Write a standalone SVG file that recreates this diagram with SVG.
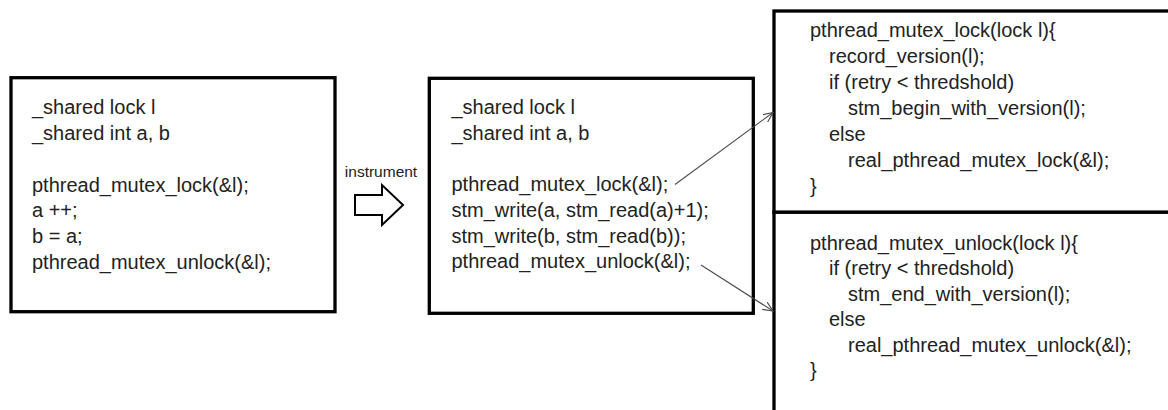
<svg xmlns="http://www.w3.org/2000/svg" width="1168" height="410" viewBox="0 0 1168 410">
<style>
.box{fill:#fff;stroke:#000;stroke-width:3.3}
.code{font-family:"Liberation Sans",Arial,sans-serif;font-size:20px;fill:#222}
.lbl{font-family:"Liberation Sans",Arial,sans-serif;font-size:15.5px;fill:#222}
.conn{fill:none;stroke:#4a4a4a;stroke-width:1.1}
</style>
<defs>
<marker id="ah" markerWidth="12" markerHeight="10" refX="10" refY="4.5" orient="auto" markerUnits="userSpaceOnUse">
<path d="M0,0 L10,4.5 L0,9" fill="none" stroke="#4a4a4a" stroke-width="1.1"/>
</marker>
</defs>
<rect width="1168" height="410" fill="#fff"/>
<g id="node-original">
<rect class="box" x="11" y="77.7" width="324" height="234"/>
<text class="code" x="32" y="114">_shared lock l</text>
<text class="code" x="32" y="140">_shared int a, b</text>
<text class="code" x="32" y="191.5">pthread_mutex_lock(&amp;l);</text>
<text class="code" x="32" y="217">a ++;</text>
<text class="code" x="32" y="242.5">b = a;</text>
<text class="code" x="32" y="268.5">pthread_mutex_unlock(&amp;l);</text>
</g>
<g id="node-instrument">
<text class="lbl" x="381" y="177" text-anchor="middle">instrument</text>
<polygon points="355,195 382,195 382,185 403,205 382,225 382,215 355,215" fill="#fff" stroke="#000" stroke-width="2"/>
</g>
<g id="node-instrumented">
<rect class="box" x="429.3" y="78.3" width="324" height="235"/>
<text class="code" x="451.5" y="113.5">_shared lock l</text>
<text class="code" x="451.5" y="139.5">_shared int a, b</text>
<text class="code" x="451.5" y="191">pthread_mutex_lock(&amp;l);</text>
<text class="code" x="451.5" y="216.7">stm_write(a, stm_read(a)+1);</text>
<text class="code" x="451.5" y="242.5">stm_write(b, stm_read(b));</text>
<text class="code" x="451.5" y="268.3">pthread_mutex_unlock(&amp;l);</text>
</g>
<g id="node-lock">
<rect class="box" x="774" y="11" width="420" height="201.3"/>
<text class="code" x="810" y="37">pthread_mutex_lock(lock l){</text>
<text class="code" x="829" y="63">record_version(l);</text>
<text class="code" x="829" y="89">if (retry &lt; thredshold)</text>
<text class="code" x="848" y="115">stm_begin_with_version(l);</text>
<text class="code" x="829" y="141">else</text>
<text class="code" x="848" y="167">real_pthread_mutex_lock(&amp;l);</text>
<text class="code" x="810" y="193">}</text>
</g>
<g id="node-unlock">
<rect class="box" x="774" y="212.3" width="420" height="220"/>
<text class="code" x="810" y="250">pthread_mutex_unlock(lock l){</text>
<text class="code" x="829" y="275">if (retry &lt; thredshold)</text>
<text class="code" x="848" y="300.5">stm_end_with_version(l);</text>
<text class="code" x="829" y="326">else</text>
<text class="code" x="848" y="351.5">real_pthread_mutex_unlock(&amp;l);</text>
<text class="code" x="810" y="377">}</text>
</g>
<g id="connectors">
<line class="conn" x1="675" y1="184.5" x2="773" y2="112.5" marker-end="url(#ah)"/>
<line class="conn" x1="701" y1="265" x2="773" y2="311" marker-end="url(#ah)"/>
</g>
</svg>
